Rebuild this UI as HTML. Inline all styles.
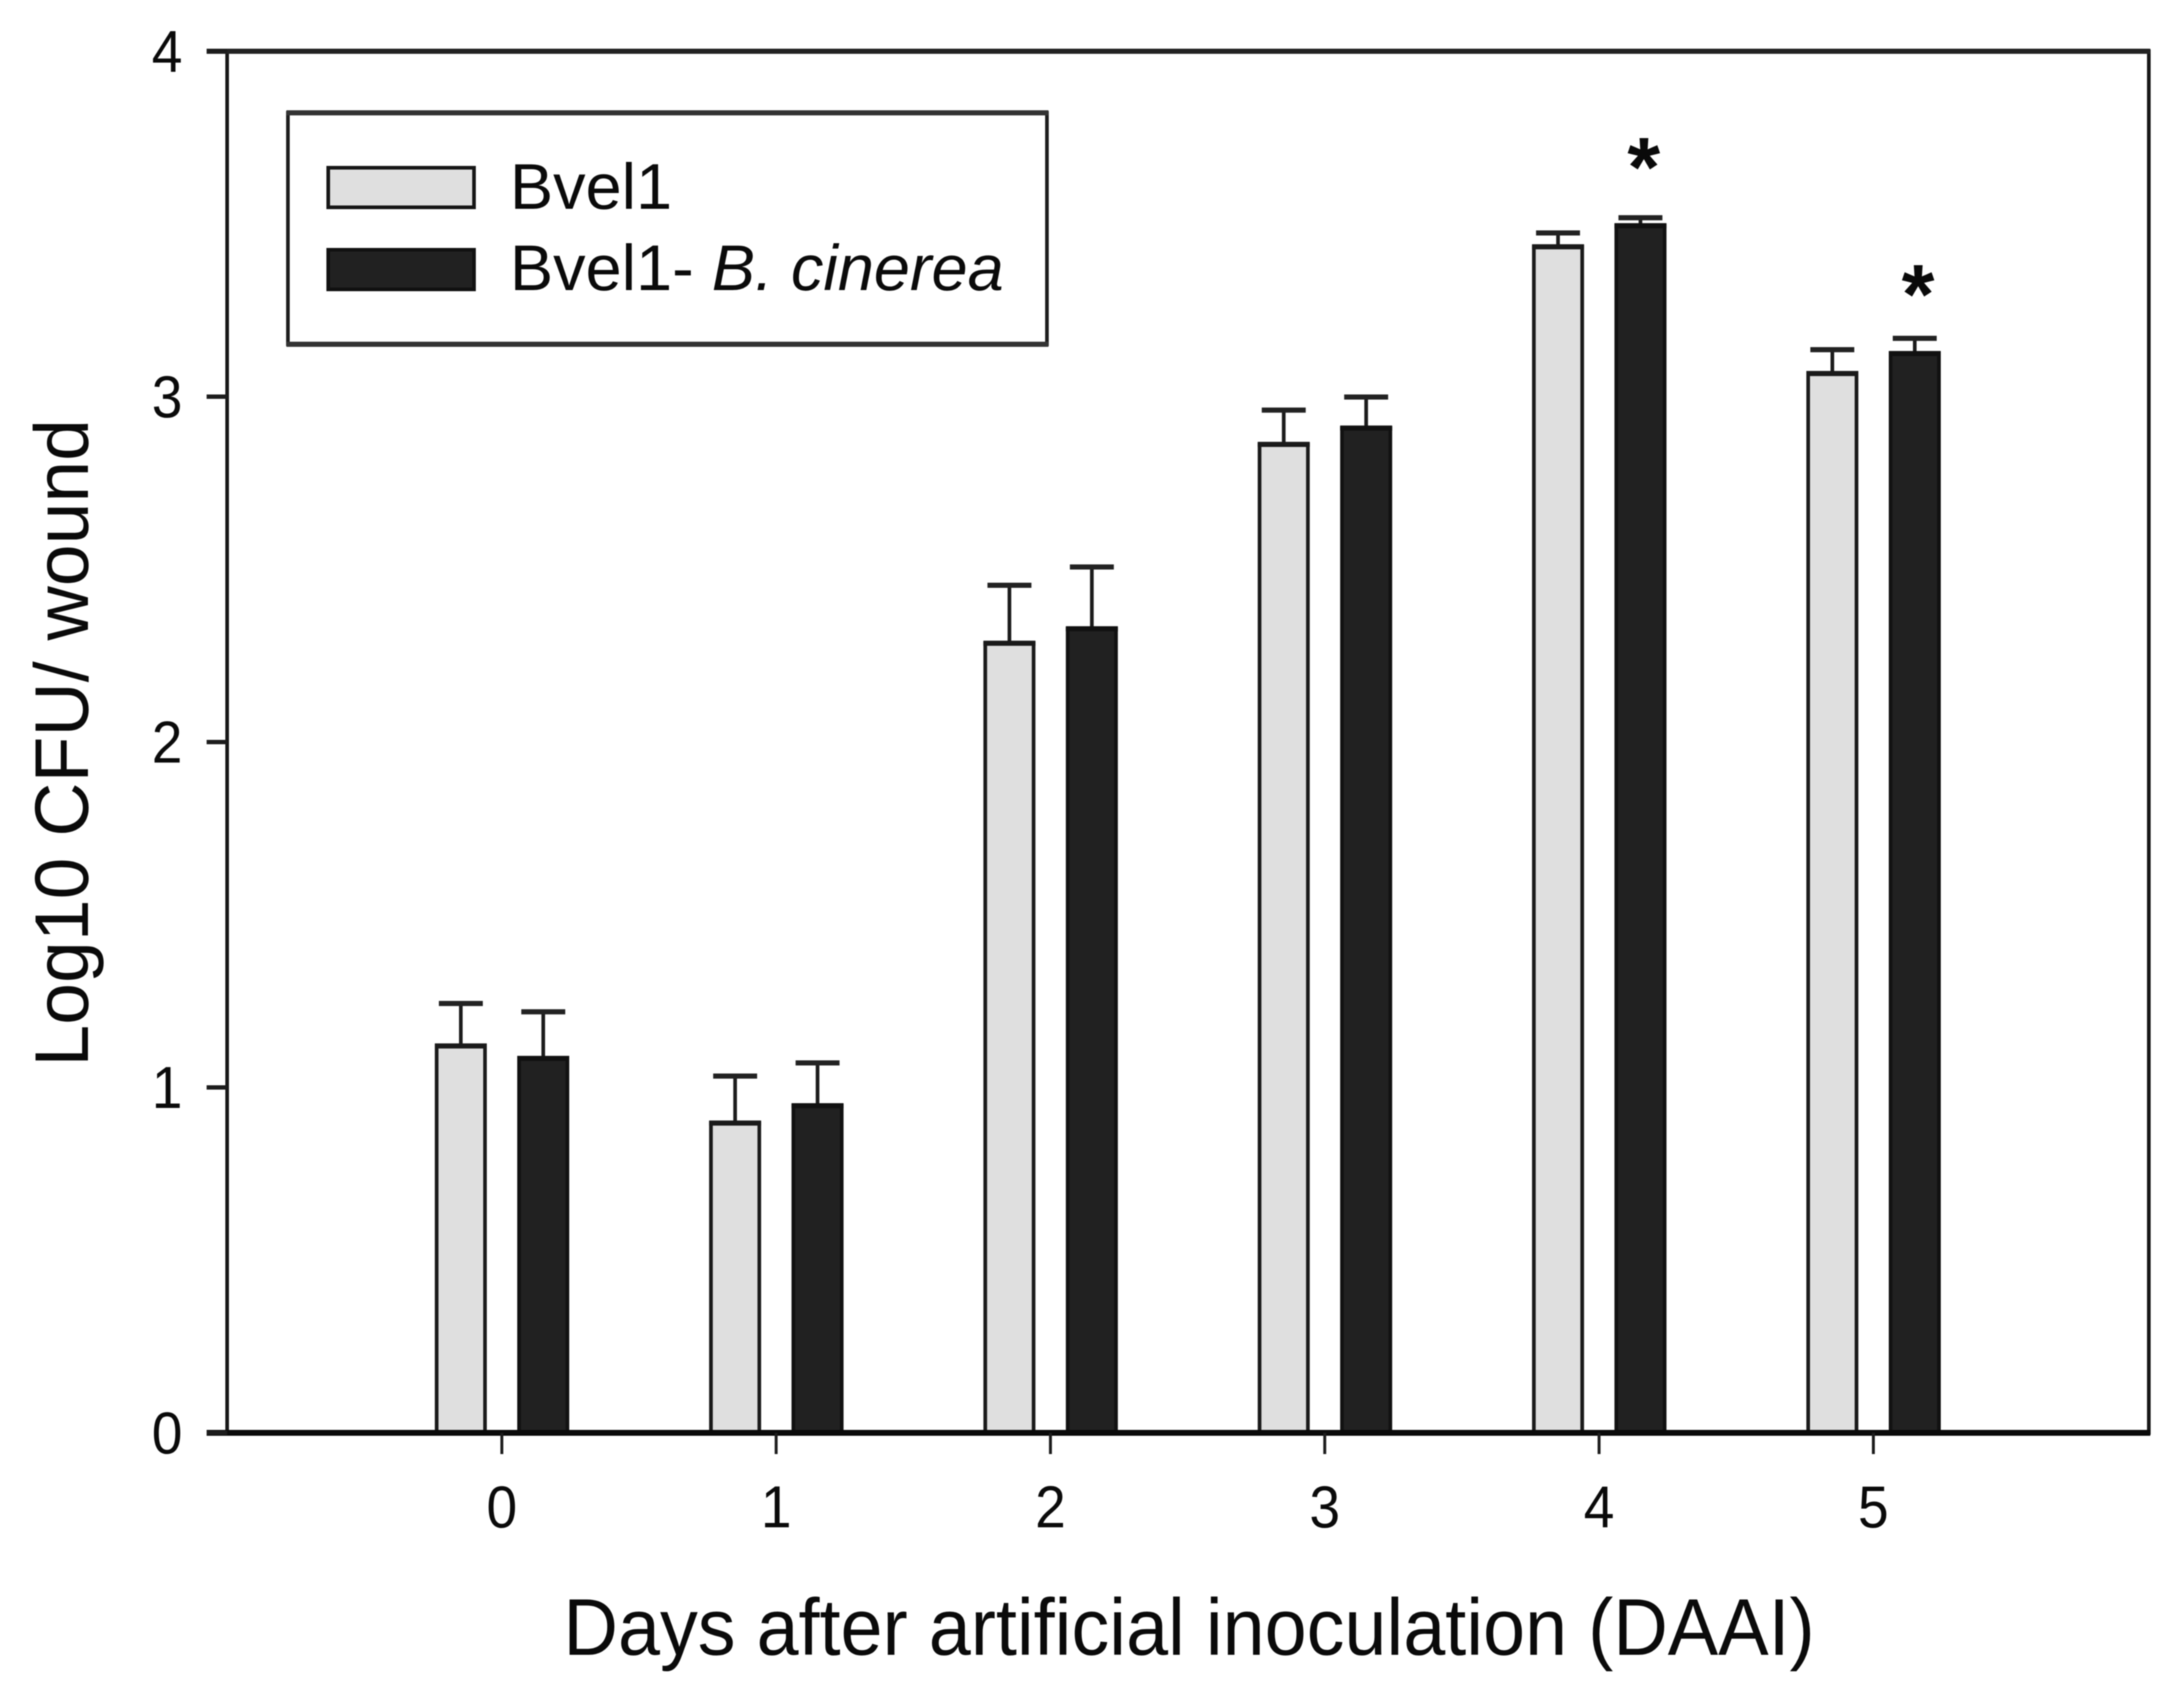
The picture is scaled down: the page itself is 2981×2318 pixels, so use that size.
<!DOCTYPE html>
<html lang="en">
<head>
<meta charset="utf-8">
<title>Log10 CFU per wound by days after artificial inoculation</title>
<style>
html,body{margin:0;padding:0;background:#fff;width:2981px;height:2318px;overflow:hidden}
svg{display:block;filter:blur(0.8px)}
text{font-family:"Liberation Sans",sans-serif;fill:#0a0a0a}
</style>
</head>
<body>
<svg id="chart" xmlns="http://www.w3.org/2000/svg" width="2981" height="2318" viewBox="0 0 2981 2318">
  <rect x="0" y="0" width="2981" height="2318" fill="#ffffff"/>
  <g id="bars"></g>
  <g id="axes"></g>
  <text transform="translate(769,2259) scale(1,1.06)" x="0" y="0" font-size="103" textLength="1708" lengthAdjust="spacingAndGlyphs">Days after artificial inoculation (DAAI)</text>
  <text transform="translate(120,1456) rotate(-90)" x="0" y="0" font-size="104" textLength="884" lengthAdjust="spacingAndGlyphs">Log10 CFU/ wound</text>
  <g>
    <rect x="393" y="154" width="1036" height="316" fill="#ffffff" stroke="#1c1c1c" stroke-width="5"/>
    <line x1="391" x2="1431" y1="154" y2="154" stroke="#333333" stroke-width="7"/>
    <line x1="391" x2="1431" y1="470" y2="470" stroke="#333333" stroke-width="7"/>
    <rect x="448" y="229" width="199" height="54" fill="#dfdfdf" stroke="#161616" stroke-width="5"/>
    <text x="696" y="285" font-size="88.5">Bvel1</text>
    <rect x="448" y="341" width="199" height="54" fill="#212121" stroke="#111111" stroke-width="5"/>
    <text x="696" y="396" font-size="88.5">Bvel1- <tspan font-style="italic">B. cinerea</tspan></text>
  </g>
</svg>
<script>
const days = [0, 1, 2, 3, 4, 5];
const yTickValues = [0, 1, 2, 3, 4];
const bvel1Means = [1.12, 0.897, 2.286, 2.862, 3.434, 3.067];
const bvel1Tops = [1.243, 1.033, 2.454, 2.961, 3.474, 3.136];
const cinereaMeans = [1.084, 0.947, 2.328, 2.909, 3.495, 3.125];
const cinereaTops = [1.219, 1.071, 2.507, 2.999, 3.518, 3.169];
const asteriskDays = [4, 5];
const asteriskLevels = [3.716, 3.348];

const svgNS = 'http://www.w3.org/2000/svg';
const barsLayer = document.getElementById('bars');
const axesLayer = document.getElementById('axes');

function xScale(day) { return 685 + day * 374.4; }
function yScale(value) { return 1956 - value * 471.5; }

function make(tag, parent, attrs) {
  const el = document.createElementNS(svgNS, tag);
  Object.keys(attrs).forEach(function (k) { el.setAttribute(k, attrs[k]); });
  parent.appendChild(el);
  return el;
}

function drawBar(parent, cx, value, top, fill, stroke) {
  const halfWidth = 33;
  const stem = make('line', parent, { x1: cx, x2: cx, y1: yScale(top), y2: yScale(value), stroke: '#1c1c1c', 'stroke-width': 5 });
  
  
  const cap = make('line', parent, { x1: cx - 30, x2: cx + 30, y1: yScale(top), y2: yScale(top), stroke: '#222222', 'stroke-width': 7 });
  
  
  const bar = make('rect', parent, { x: cx - halfWidth, y: yScale(value), width: halfWidth * 2, height: yScale(0) - yScale(value), fill: fill, stroke: stroke, 'stroke-width': 5 });
  
  
  const edge = make('line', parent, { x1: cx - halfWidth - 2.5, x2: cx + halfWidth + 2.5, y1: yScale(value), y2: yScale(value), stroke: stroke, 'stroke-width': 7 });
  
  
}

days.forEach(function (day, i) {
  drawBar(barsLayer, xScale(day) - 56, bvel1Means[i], bvel1Tops[i], '#dfdfdf', '#1a1a1a');
  drawBar(barsLayer, xScale(day) + 56.5, cinereaMeans[i], cinereaTops[i], '#212121', '#111111');
});

asteriskDays.forEach(function (day, i) {
  const star = make('text', barsLayer, { x: xScale(day) + 61, y: yScale(asteriskLevels[i]) + 64, 'font-size': 115, 'font-weight': 'bold', 'text-anchor': 'middle' });
  
  
  star.textContent = '*';
});

const frame = make('rect', axesLayer, { x: 310, y: yScale(4), width: 2623, height: yScale(0) - yScale(4), fill: 'none', stroke: '#161616', 'stroke-width': 5 });



const topLine = make('line', axesLayer, { x1: 282, x2: 2935, y1: yScale(4), y2: yScale(4), stroke: '#222222', 'stroke-width': 7 });



const baseLine = make('line', axesLayer, { x1: 282, x2: 2935, y1: yScale(0), y2: yScale(0), stroke: '#0a0a0a', 'stroke-width': 8 });



yTickValues.forEach(function (v) {
  const tick = make('line', axesLayer, { x1: 282, x2: 310, y1: yScale(v), y2: yScale(v), stroke: '#1c1c1c', 'stroke-width': 6 });
  
  
  const label = make('text', axesLayer, { transform: 'translate(249,' + (yScale(v) + 28) + ') scale(0.93,1)', x: 0, y: 0, 'font-size': 81, 'text-anchor': 'end' });
  
  
  label.textContent = String(v);
});

days.forEach(function (day) {
  const tick = make('line', axesLayer, { x1: xScale(day), x2: xScale(day), y1: yScale(0), y2: 1985, stroke: '#1c1c1c', 'stroke-width': 4 });
  
  
  const label = make('text', axesLayer, { transform: 'translate(' + xScale(day) + ',2085) scale(0.93,1)', x: 0, y: 0, 'font-size': 81, 'text-anchor': 'middle' });
  
  
  label.textContent = String(day);
});
</script>
</body>
</html>
